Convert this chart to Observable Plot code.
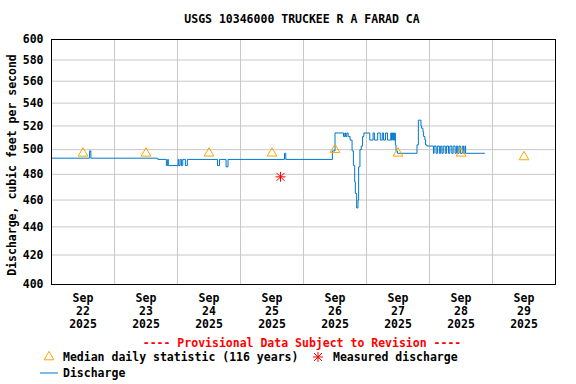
<!DOCTYPE html>
<html>
<head>
<meta charset="utf-8">
<script src="https://cdn.jsdelivr.net/npm/d3@7"></script>
<script src="https://cdn.jsdelivr.net/npm/@observablehq/plot@0.6"></script>
<style>
  html, body { margin: 0; padding: 0; background: white; }
  #chart { width: 576px; height: 384px; }
</style>
</head>
<body>
<div id="chart"></div>
<script>
// ---------------- Data ----------------
const titleText = "USGS 10346000 TRUCKEE R A FARAD CA";
const yLabelText = "Discharge, cubic feet per second";
const provisionalText = "---- Provisional Data Subject to Revision ----";
const legendMedianText = "Median daily statistic (116 years)";
const legendMeasuredText = "Measured discharge";
const legendDischargeText = "Discharge";

const xTickMonth = "Sep";
const xTickYear = "2025";
const xTickDays = ["22", "23", "24", "25", "26", "27", "28", "29"];
const yTicks = [400, 420, 440, 460, 480, 500, 520, 540, 560, 580, 600];

// Median daily statistic (at noon each day)
const medianDays = ["2025-09-22", "2025-09-23", "2025-09-24", "2025-09-25", "2025-09-26", "2025-09-27", "2025-09-28", "2025-09-29"];
const medianValues = [497, 497, 497, 497, 500, 497, 497, 494];

// Measured discharge
const measuredTimes = ["2025-09-25T15:15"];
const measuredValues = [478];

// Discharge (instantaneous, step)
const dischargeTimes = [
  "2025-09-22T00:00", "2025-09-22T14:30", "2025-09-22T15:00",
  "2025-09-23T16:30", "2025-09-23T19:45", "2025-09-23T20:15", "2025-09-23T20:30",
  "2025-09-24T00:15", "2025-09-24T00:30", "2025-09-24T01:00", "2025-09-24T01:30", "2025-09-24T02:00",
  "2025-09-24T03:00", "2025-09-24T03:45", "2025-09-24T15:15", "2025-09-24T16:00",
  "2025-09-24T18:30", "2025-09-24T19:15",
  "2025-09-25T16:45", "2025-09-25T17:15",
  "2025-09-26T11:00", "2025-09-26T12:00", "2025-09-26T15:15", "2025-09-26T15:45", "2025-09-26T16:00",
  "2025-09-26T16:30", "2025-09-26T17:00", "2025-09-26T17:45", "2025-09-26T18:30", "2025-09-26T19:00",
  "2025-09-26T19:30", "2025-09-26T19:45", "2025-09-26T20:15", "2025-09-26T20:45", "2025-09-26T21:00",
  "2025-09-26T21:30", "2025-09-26T22:00", "2025-09-26T22:30", "2025-09-26T23:00",
  "2025-09-27T01:15", "2025-09-27T02:30", "2025-09-27T03:00", "2025-09-27T04:15", "2025-09-27T05:15",
  "2025-09-27T06:00", "2025-09-27T06:30", "2025-09-27T07:15", "2025-09-27T08:00", "2025-09-27T09:15",
  "2025-09-27T09:30", "2025-09-27T09:45", "2025-09-27T10:00", "2025-09-27T10:15", "2025-09-27T10:30",
  "2025-09-27T10:45", "2025-09-27T11:00", "2025-09-27T11:15", "2025-09-27T11:45",
  "2025-09-27T19:15", "2025-09-27T19:45", "2025-09-27T20:45", "2025-09-27T21:00", "2025-09-27T21:30",
  "2025-09-27T21:45", "2025-09-27T22:15", "2025-09-27T22:30", "2025-09-27T23:00",
  "2025-09-28T01:30", "2025-09-28T01:45", "2025-09-28T02:30", "2025-09-28T03:00", "2025-09-28T03:45",
  "2025-09-28T04:15", "2025-09-28T04:45", "2025-09-28T05:15", "2025-09-28T06:00", "2025-09-28T06:30",
  "2025-09-28T07:15", "2025-09-28T07:45", "2025-09-28T08:30", "2025-09-28T09:00", "2025-09-28T09:45",
  "2025-09-28T10:15", "2025-09-28T10:45", "2025-09-28T11:15", "2025-09-28T11:45", "2025-09-28T12:30",
  "2025-09-28T13:00", "2025-09-28T13:30", "2025-09-28T13:45", "2025-09-28T21:00"
];
const dischargeValues = [
  493, 499, 493,
  492, 487, 492, 487,
  492, 487, 492, 487, 492,
  487, 492, 487, 492,
  486, 492,
  497, 492,
  499, 514, 511, 514, 511,
  514, 511, 508, 499, 487,
  474, 465, 454, 460, 486,
  500, 503, 511, 514,
  508, 514, 508, 514, 508,
  514, 508, 514, 508, 514,
  508, 514, 508, 514, 508,
  514, 504, 499, 497,
  504, 525, 520, 518, 515,
  511, 508, 504, 503,
  497, 503, 497, 503, 497,
  503, 497, 503, 497, 503,
  497, 503, 497, 503, 497,
  503, 497, 503, 497, 503,
  497, 503, 497, 497
];

// ---------------- Build ----------------
const FONT = "DejaVu Sans Mono";
const FS = 11.5;
const utc = s => new Date(s + (s.length === 10 ? "T00:00Z" : "Z"));
const xStart = utc("2025-09-22");
const xEnd = utc("2025-09-30");
const midnights = d3.utcDay.range(xStart, d3.utcDay.offset(xEnd, 1)).slice(1, -1);
const noons = xTickDays.map(d => new Date(Date.UTC(2025, 8, +d, 12)));

const discharge = dischargeTimes.map((t, i) => ({t: utc(t), v: dischargeValues[i]}));
const medians = medianDays.map((d, i) => ({t: new Date(utc(d).getTime() + 12 * 3600e3), v: medianValues[i]}));
const measured = measuredTimes.map((t, i) => ({t: utc(t), v: measuredValues[i]}));

const asterisk8 = {
  draw(context, size) {
    const r = Math.sqrt(size / Math.PI);
    const d = r * 0.8;
    context.moveTo(-r, 0); context.lineTo(r, 0);
    context.moveTo(0, -r); context.lineTo(0, r);
    context.moveTo(-d, -d); context.lineTo(d, d);
    context.moveTo(-d, d); context.lineTo(d, -d);
  }
};

const chart = Plot.plot({
  width: 576,
  height: 384,
  marginTop: 39,
  marginBottom: 100,
  marginLeft: 51,
  marginRight: 21,
  style: {fontFamily: FONT, fontSize: FS + "px", fontWeight: "bold", background: "white", color: "black", overflow: "visible"},
  x: {type: "utc", domain: [xStart, xEnd]},
  y: {type: "log", domain: [400, 600]},
  marks: [
    Plot.gridY(yTicks, {stroke: "#c8c8c8", strokeOpacity: 1}),
    Plot.gridX(midnights, {stroke: "#c8c8c8", strokeOpacity: 1}),
    Plot.axisY(yTicks, {tickSize: 0, tickPadding: 8, tickFormat: d => String(d), label: null, fill: "black"}),
    Plot.axisX(noons, {tickSize: 0, tickPadding: 8, lineHeight: 1.13, label: null, fill: "black",
      tickFormat: (d, i) => `${xTickMonth}\n${xTickDays[i]}\n${xTickYear}`}),
    Plot.line(discharge, {x: "t", y: "v", curve: "step-after", stroke: "#0077cc", strokeWidth: 1}),
    Plot.dot(medians, {x: "t", y: "v", symbol: "triangle", r: 3.6, stroke: "#ffa500", fill: "none", strokeWidth: 1}),
    Plot.dot(measured, {x: "t", y: "v", symbol: asterisk8, r: 5, stroke: "#ff0000", fill: "none", strokeWidth: 1}),
    Plot.frame({stroke: "black", strokeWidth: 1})
  ]
});

document.getElementById("chart").appendChild(chart);

// ---------------- Title, y label, legend ----------------
const svg = d3.select(chart);
const addText = (x, y, txt, opts = {}) => svg.append("text")
  .attr("x", x).attr("y", y)
  .attr("font-family", FONT).attr("font-size", FS).attr("font-weight", "bold")
  .attr("fill", opts.fill || "black")
  .attr("text-anchor", opts.anchor || "start")
  .attr("dominant-baseline", "central")
  .attr("transform", opts.transform || null)
  .text(txt);

addText(302, 19, titleText, {anchor: "middle"});
addText(0, 0, yLabelText, {anchor: "middle", transform: "translate(12,165) rotate(-90)"});
addText(302, 343, provisionalText, {anchor: "middle", fill: "#ff0000"});

// legend row 1
const tri = d3.symbol(d3.symbolTriangle, 3.6 * 3.6 * Math.PI)();
svg.append("path").attr("d", tri).attr("transform", "translate(49,357)")
  .attr("fill", "none").attr("stroke", "#ffa500");
addText(63, 357, legendMedianText);
svg.append("path").attr("d", d3.symbol(asterisk8, 25 * Math.PI)()).attr("transform", "translate(318,357)")
  .attr("fill", "none").attr("stroke", "#ff0000");
addText(333, 357, legendMeasuredText);
// legend row 2
svg.append("line").attr("x1", 40).attr("x2", 58).attr("y1", 373).attr("y2", 373)
  .attr("stroke", "#0077cc").attr("stroke-width", 1);
addText(63, 373, legendDischargeText);
</script>
</body>
</html>
